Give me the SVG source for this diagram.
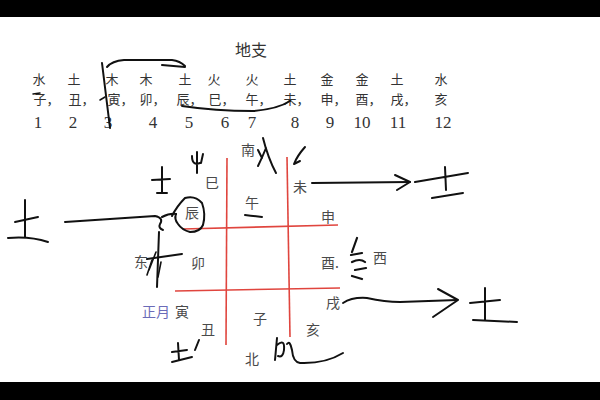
<svg xmlns="http://www.w3.org/2000/svg" width="600" height="400" viewBox="0 0 600 400">
<style>
.t{font-family:"Noto Sans CJK SC","Noto Sans",sans-serif;fill:#333;text-anchor:middle}
.h{font-size:13px}
.r{font-size:13px;text-anchor:start}
.n{font-family:"Liberation Serif",serif;font-size:17px;fill:#333;text-anchor:middle}
.g{font-family:"Noto Sans CJK SC",sans-serif;font-size:14px;fill:#4a4a4a;text-anchor:middle}
.red{stroke:#e0453e;stroke-width:1.6;fill:none}
.ink{stroke:#111;stroke-width:2;fill:none;stroke-linecap:round;stroke-linejoin:round}
</style>
<rect width="600" height="400" fill="#fff"/>
<rect width="600" height="17" fill="#000"/>
<rect y="382" width="600" height="18" fill="#000"/>
<text class="t" x="251" y="56" style="font-size:16px">地支</text>
<g id="elements">
<text class="t h" x="39" y="84">水</text><text class="t h" x="74" y="84">土</text><text class="t h" x="112" y="84">木</text><text class="t h" x="146" y="84">木</text><text class="t h" x="185" y="84">土</text><text class="t h" x="214" y="84">火</text><text class="t h" x="252" y="84">火</text><text class="t h" x="290" y="84">土</text><text class="t h" x="327" y="84">金</text><text class="t h" x="362" y="84">金</text><text class="t h" x="397" y="84">土</text><text class="t h" x="441" y="84">水</text>
</g>
<g id="branches">
<text class="t r" x="33.5" y="104">子，</text><text class="t r" x="68.5" y="104">丑，</text><text class="t r" x="107.5" y="104">寅，</text><text class="t r" x="139.5" y="104">卯，</text><text class="t r" x="176.5" y="104">辰，</text><text class="t r" x="208.5" y="104">巳，</text><text class="t r" x="245.5" y="104">午，</text><text class="t r" x="283.5" y="104">未，</text><text class="t r" x="320.5" y="104">申，</text><text class="t r" x="355.5" y="104">酉，</text><text class="t r" x="390.5" y="104">戌，</text><text class="t r" x="434.5" y="104">亥</text>
</g>
<g id="numbers">
<text class="n" x="38" y="128">1</text><text class="n" x="73" y="128">2</text><text class="n" x="108" y="128">3</text><text class="n" x="153" y="128">4</text><text class="n" x="189" y="128">5</text><text class="n" x="225" y="128">6</text><text class="n" x="252" y="128">7</text><text class="n" x="295" y="128">8</text><text class="n" x="330" y="128">9</text><text class="n" x="362" y="128">10</text><text class="n" x="398" y="128">11</text><text class="n" x="443" y="128">12</text>
</g>
<g id="grid">
<path class="red" d="M227 158 L226 345"/>
<path class="red" d="M287 157 L290 337"/>
<path class="red" d="M183 229 L338 225"/>
<path class="red" d="M175 291 L340 288"/>
</g>
<g id="labels">
<text class="g" x="248" y="155">南</text>
<text class="g" x="212" y="188">巳</text>
<text class="g" x="252" y="208">午</text>
<text class="g" x="192" y="218">辰</text>
<text class="g" x="300" y="192">未</text>
<text class="g" x="328" y="222">申</text>
<text class="g" x="141" y="267">东</text>
<text class="g" x="198" y="268">卯</text>
<text class="g" x="330" y="268">酉.</text>
<text class="g" x="380" y="263">西</text>
<text class="g" x="333" y="308">戌</text>
<text class="g" x="182" y="317">寅</text>
<text class="g" x="156" y="317" style="fill:#6b6bb8">正月</text>
<text class="g" x="260" y="324">子</text>
<text class="g" x="208" y="335">丑</text>
<text class="g" x="313" y="335">亥</text>
<text class="g" x="252" y="364">北</text>
</g>
<g id="connectors">
<path class="ink" d="M102 63 L110 128"/>
<path class="ink" d="M107 67 Q112 61 124 60 L172 60 Q180 61 185 66"/>
<path class="ink" d="M162 65 L185 67"/>
<path class="ink" d="M182 106 Q215 111 253 111 Q278 109 290 101"/>
<path class="ink" d="M33 94 L40 93" style="stroke-width:1.5"/>
<path class="ink" d="M100 100 L105 97" style="stroke-width:1.5"/>
<path class="ink" d="M65 222 L155 216 Q164 218 160 224 Q158 228 163 230"/>
<path class="ink" d="M159 232 L157 287"/>
<path class="ink" d="M147 259 L182 254"/>
<path class="ink" d="M149 270 L156 252 M152 260 L147 275 M161 262 L158 277" style="stroke-width:1.6"/>
<path class="ink" d="M172 216 Q177 206 185 198 Q195 195 202 203 Q206 214 203 225 Q200 232 190 232 Q182 230 178 224 Q174 219 176 214"/>
<path class="ink" d="M162 217 Q170 213 176 214"/>
<path class="ink" d="M312 183 L410 182"/>
<path class="ink" d="M395 175 L410 182 L397 190"/>
<path class="ink" d="M343 303 Q352 297 367 298 Q385 302 400 302 Q430 301 457 300"/>
<path class="ink" d="M438 289 L458 300 L433 317"/>
</g>
<g id="handwriting">
<path class="ink" d="M25 200 L25 237 M15 222 L38 217 M8 238 Q30 236 48 242"/>
<path class="ink" d="M162 167 L162 193 M152 180 L170 179 M157 193 L167 193"/>
<path class="ink" d="M197 152 L197 173 M192 156 Q192 166 200 163 M203 154 L201 163"/>
<path class="ink" d="M263 138 Q268 158 276 173 M258 150 L262 158 M266 148 Q262 158 258 166"/>
<path class="ink" d="M305 147 Q297 156 294 164 L300 161"/>
<path class="ink" d="M245 215 Q254 216 262 217"/>
<path class="ink" d="M445 167 L446 190 M415 182 L468 173 M432 198 L463 193"/>
<path class="ink" d="M357 238 L352 252 M351 255 L362 253 M352 262 Q360 258 365 262 M355 270 L366 268 M352 276 L362 279" style="stroke-width:2.2"/>
<path class="ink" d="M485 288 L485 320 M470 303 L500 300 M473 320 L517 322"/>
<path class="ink" d="M178 343 L179 360 M172 352 L187 350 M172 362 L192 357"/>
<path class="ink" d="M199 340 L195 350"/>
<path class="ink" d="M277 338 L275 360 M277 345 Q285 338 284 350 Q283 358 278 356 M287 344 Q290 340 292 350 Q293 362 300 363 Q325 364 343 353"/>
</g>
</svg>
